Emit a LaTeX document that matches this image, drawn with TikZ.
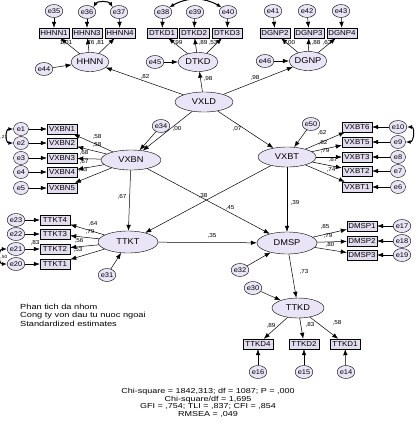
\documentclass[tikz,border=0pt]{standalone}
\usepackage{fontspec}
\setmainfont[FakeStretch=1.1]{Liberation Sans}
\newfontfamily\widefont[FakeStretch=1.25]{Liberation Sans}
\usetikzlibrary{arrows.meta,shapes.geometric}
\definecolor{latfill}{RGB}{234,229,246}
\definecolor{boxfill}{RGB}{226,220,238}
\tikzset{
  lat/.style={ellipse,draw,fill=latfill,minimum width=40pt,minimum height=19pt,inner sep=0pt,font=\fontsize{8.4}{9}\selectfont},
  ind/.style={rectangle,draw,fill=boxfill,minimum width=30pt,minimum height=10pt,inner sep=0pt,font=\fontsize{7.2}{8}\selectfont},
  err/.style={ellipse,draw,fill=latfill,minimum width=15pt,minimum height=13pt,inner sep=0pt,font=\fontsize{6.8}{8}\selectfont},
  lab/.style={inner sep=0pt,font=\fontsize{5.8}{6}\selectfont},
  arr/.style={-{Latex[length=6pt,width=4.5pt]},line width=0.5pt},
  corr/.style={{Latex[length=5pt,width=4pt]}-{Latex[length=5pt,width=4pt]},line width=1pt}
}
\begin{document}
\begin{tikzpicture}[x=1pt,y=-1pt]
\useasboundingbox[fill=white] (0,0) rectangle (416,429);
% ---- top row: HHNN
\node[err] (e35) at (54,11) {e35};
\node[err] (e36) at (87,12) {e36};
\node[err] (e37) at (119,12) {e37};
\node[ind] (HHNN1) at (54,33) {HHNN1};
\node[ind] (HHNN3) at (87,33) {HHNN3};
\node[ind] (HHNN4) at (120,33) {HHNN4};
\node[lat,minimum width=38pt] (HHNN) at (90,62) {HHNN};
\node[err] (e44) at (44,69) {e44};
% DTKD
\node[err] (e38) at (163,12) {e38};
\node[err] (e39) at (195,12) {e39};
\node[err] (e40) at (228,12) {e40};
\node[ind] (DTKD1) at (162,33) {DTKD1};
\node[ind] (DTKD2) at (194,33) {DTKD2};
\node[ind] (DTKD3) at (227,33) {DTKD3};
\node[lat] (DTKD) at (198,62) {DTKD};
\node[err] (e45) at (155,62) {e45};
% DGNP
\node[err] (e41) at (273,11) {e41};
\node[err] (e42) at (307,11) {e42};
\node[err] (e43) at (341,11) {e43};
\node[ind] (DGNP2) at (275,33) {DGNP2};
\node[ind] (DGNP3) at (309,33) {DGNP3};
\node[ind] (DGNP4) at (342,33) {DGNP4};
\node[lat,minimum width=37pt] (DGNP) at (308,61) {DGNP};
\node[err] (e46) at (265,61) {e46};
% second-order
\node[lat,minimum width=58pt,minimum height=20pt] (VXLD) at (204,102) {VXLD};
\node[lat,minimum width=60pt,minimum height=20pt] (VXBN) at (131,160) {VXBN};
\node[lat,minimum width=58pt,minimum height=20pt] (VXBT) at (287,157) {VXBT};
\node[err] (e34) at (161,126) {e34};
\node[err] (e50) at (311,124) {e50};
% VXBN indicators
\node[ind] (VXBN1) at (62,129) {VXBN1};
\node[ind] (VXBN2) at (62,143) {VXBN2};
\node[ind] (VXBN3) at (62,158) {VXBN3};
\node[ind] (VXBN4) at (62,172) {VXBN4};
\node[ind] (VXBN5) at (62,188) {VXBN5};
\node[err] (e1) at (21,129) {e1};
\node[err] (e2) at (21,143) {e2};
\node[err] (e3) at (21,158) {e3};
\node[err] (e4) at (21,172) {e4};
\node[err] (e5) at (21,188) {e5};
% VXBT indicators
\node[ind] (VXBT6) at (357,127) {VXBT6};
\node[ind] (VXBT5) at (357,142) {VXBT5};
\node[ind] (VXBT3) at (357,157) {VXBT3};
\node[ind] (VXBT2) at (357,171) {VXBT2};
\node[ind] (VXBT1) at (357,187) {VXBT1};
\node[err] (e10) at (398,127) {e10};
\node[err] (e9) at (398,142) {e9};
\node[err] (e8) at (398,157) {e8};
\node[err] (e7) at (398,171) {e7};
\node[err] (e6) at (398,187) {e6};
% TTKT
\node[lat,minimum width=60pt,minimum height=22pt] (TTKT) at (128,242) {TTKT};
\node[ind] (TTKT4) at (55,220) {TTKT4};
\node[ind] (TTKT3) at (55,234) {TTKT3};
\node[ind] (TTKT2) at (55,249) {TTKT2};
\node[ind] (TTKT1) at (55,264) {TTKT1};
\node[err] (e23) at (16,220) {e23};
\node[err] (e22) at (16,234) {e22};
\node[err] (e21) at (16,249) {e21};
\node[err] (e20) at (16,264) {e20};
\node[err] (e31) at (107,275) {e31};
% DMSP
\node[lat,minimum width=60pt,minimum height=22pt] (DMSP) at (287,243) {DMSP};
\node[ind] (DMSP1) at (362,226) {DMSP1};
\node[ind] (DMSP2) at (362,241) {DMSP2};
\node[ind] (DMSP3) at (362,255) {DMSP3};
\node[err] (e17) at (402,226) {e17};
\node[err] (e18) at (402,241) {e18};
\node[err] (e19) at (402,255) {e19};
\node[err] (e32) at (240,270) {e32};
\node[err] (e30) at (253,288) {e30};
% TTKD
\node[lat,minimum width=52pt,minimum height=20pt] (TTKD) at (298,308) {TTKD};
\node[ind] (TTKD4) at (258,344) {TTKD4};
\node[ind] (TTKD2) at (304,344) {TTKD2};
\node[ind] (TTKD1) at (345,344) {TTKD1};
\node[err] (e16) at (258,372) {e16};
\node[err] (e15) at (304,372) {e15};
\node[err] (e14) at (346,372) {e14};

% ---- arrows
\foreach \e/\b in {e35/HHNN1,e36/HHNN3,e37/HHNN4,e38/DTKD1,e39/DTKD2,e40/DTKD3,e41/DGNP2,e42/DGNP3,e43/DGNP4,
  e1/VXBN1,e2/VXBN2,e3/VXBN3,e4/VXBN4,e5/VXBN5,e10/VXBT6,e9/VXBT5,e8/VXBT3,e7/VXBT2,e6/VXBT1,
  e23/TTKT4,e22/TTKT3,e21/TTKT2,e20/TTKT1,e17/DMSP1,e18/DMSP2,e19/DMSP3,e16/TTKD4,e15/TTKD2,e14/TTKD1,
  e44/HHNN,e45/DTKD,e46/DGNP,e34/VXBN,e50/VXBT,e31/TTKT,e32/DMSP,e30/TTKD}
  \draw[arr] (\e) -- (\b);
\foreach \l/\b in {HHNN/HHNN1,HHNN/HHNN3,HHNN/HHNN4,DTKD/DTKD1,DTKD/DTKD2,DTKD/DTKD3,DGNP/DGNP2,DGNP/DGNP3,DGNP/DGNP4,
  VXLD/HHNN,VXLD/DTKD,VXLD/DGNP,VXLD/VXBN,VXLD/VXBT,
  VXBN/VXBN1,VXBN/VXBN2,VXBN/VXBN3,VXBN/VXBN4,VXBN/VXBN5,
  VXBT/VXBT6,VXBT/VXBT5,VXBT/VXBT3,VXBT/VXBT2,VXBT/VXBT1,
  VXBN/TTKT,VXBN/DMSP,VXBT/TTKT,VXBT/DMSP,TTKT/DMSP,
  TTKT/TTKT4,TTKT/TTKT3,TTKT/TTKT2,TTKT/TTKT1,
  DMSP/DMSP1,DMSP/DMSP2,DMSP/DMSP3,DMSP/TTKD,TTKD/TTKD4,TTKD/TTKD2,TTKD/TTKD1}
  \draw[arr] (\l) -- (\b);
% correlations
\draw[corr] (e36.north east) to[out=60,in=120] (e37.north west);
\draw[corr] (e38.north east) to[out=30,in=150] (e40.north west);
\draw[corr] (e10.east) to[out=0,in=0,looseness=1.4] (e9.east);
\draw[corr] (e1.west) to[out=180,in=180,looseness=1.5] (e2.west);
\draw[corr] (e21.west) to[out=180,in=180,looseness=1.5] (e20.west);

% ---- labels
\node[lab] (l1) at (66,43) {1,01};
\node[lab] (l2) at (90,43) {,76};
\node[lab] (l3) at (100,43) {,81};
\node[lab] (l4) at (178,43) {,99};
\node[lab] (l5) at (203,43) {,89};
\node[lab] (l6) at (213,43) {,53};
\node[lab] (l7) at (289,43) {1,00};
\node[lab] (l8) at (316,43) {,88};
\node[lab] (l9) at (327,43) {,63};
\node[lab] (l10) at (145,77) {,82};
\node[lab] (l11) at (208,79) {,98};
\node[lab] (l12) at (255,78) {,98};
\node[lab] (l13) at (177,129) {,00};
\node[lab] (l14) at (237,129) {,07};
\node[lab] (l15) at (97,137) {,58};
\node[lab] (l16) at (97,145) {,58};
\node[lab] (l17) at (84,153) {,68};
\node[lab] (l18) at (84,162) {,67};
\node[lab] (l19) at (83,170) {,63};
\node[lab] (l20) at (322,133) {,62};
\node[lab] (l21) at (323,143) {,82};
\node[lab] (l22) at (325,151) {,79};
\node[lab] (l23) at (333,160) {,87};
\node[lab] (l24) at (331,170) {,74};
\node[lab] (l25) at (122,197) {,67};
\node[lab] (l26) at (203,196) {,38};
\node[lab] (l27) at (230,208) {,45};
\node[lab] (l28) at (295,203) {,39};
\node[lab] (l29) at (212,236) {,35};
\node[lab] (l30) at (93,224) {,64};
\node[lab] (l31) at (90,232) {,79};
\node[lab] (l32) at (79,241) {,56};
\node[lab] (l33) at (78,250) {,53};
\node[lab] (l34) at (35,243) {,83};
\node[lab,anchor=west,font=\fontsize{4.5}{5}\selectfont] (l35) at (0.3,137) {,21};
\node[lab,anchor=west,font=\fontsize{4.5}{5}\selectfont] (l36) at (0.3,257) {,50};
\node[lab] (l37) at (325,227) {,85};
\node[lab] (l38) at (328,236) {,79};
\node[lab] (l39) at (330,245) {,80};
\node[lab] (l40) at (304,272) {,73};
\node[lab] (l41) at (271,326) {,89};
\node[lab] (l42) at (310,325) {,83};
\node[lab] (l43) at (337,323) {,58};

% ---- texts
\node[anchor=north west,inner sep=0pt,align=left,font=\widefont\fontsize{7.4}{8.3}\selectfont] (cap) at (20,304)
  {Phan tich da nhom\\Cong ty von dau tu nuoc ngoai\\Standardized estimates};
\node[anchor=north,inner sep=0pt,align=center,font=\widefont\fontsize{7.2}{7.6}\selectfont] (fit) at (208,388)
  {Chi-square = 1842,313; df = 1087; P = ,000\\Chi-square/df = 1,695\\GFI = ,754; TLI = ,837; CFI = ,854\\RMSEA = ,049};
\end{tikzpicture}
\end{document}
